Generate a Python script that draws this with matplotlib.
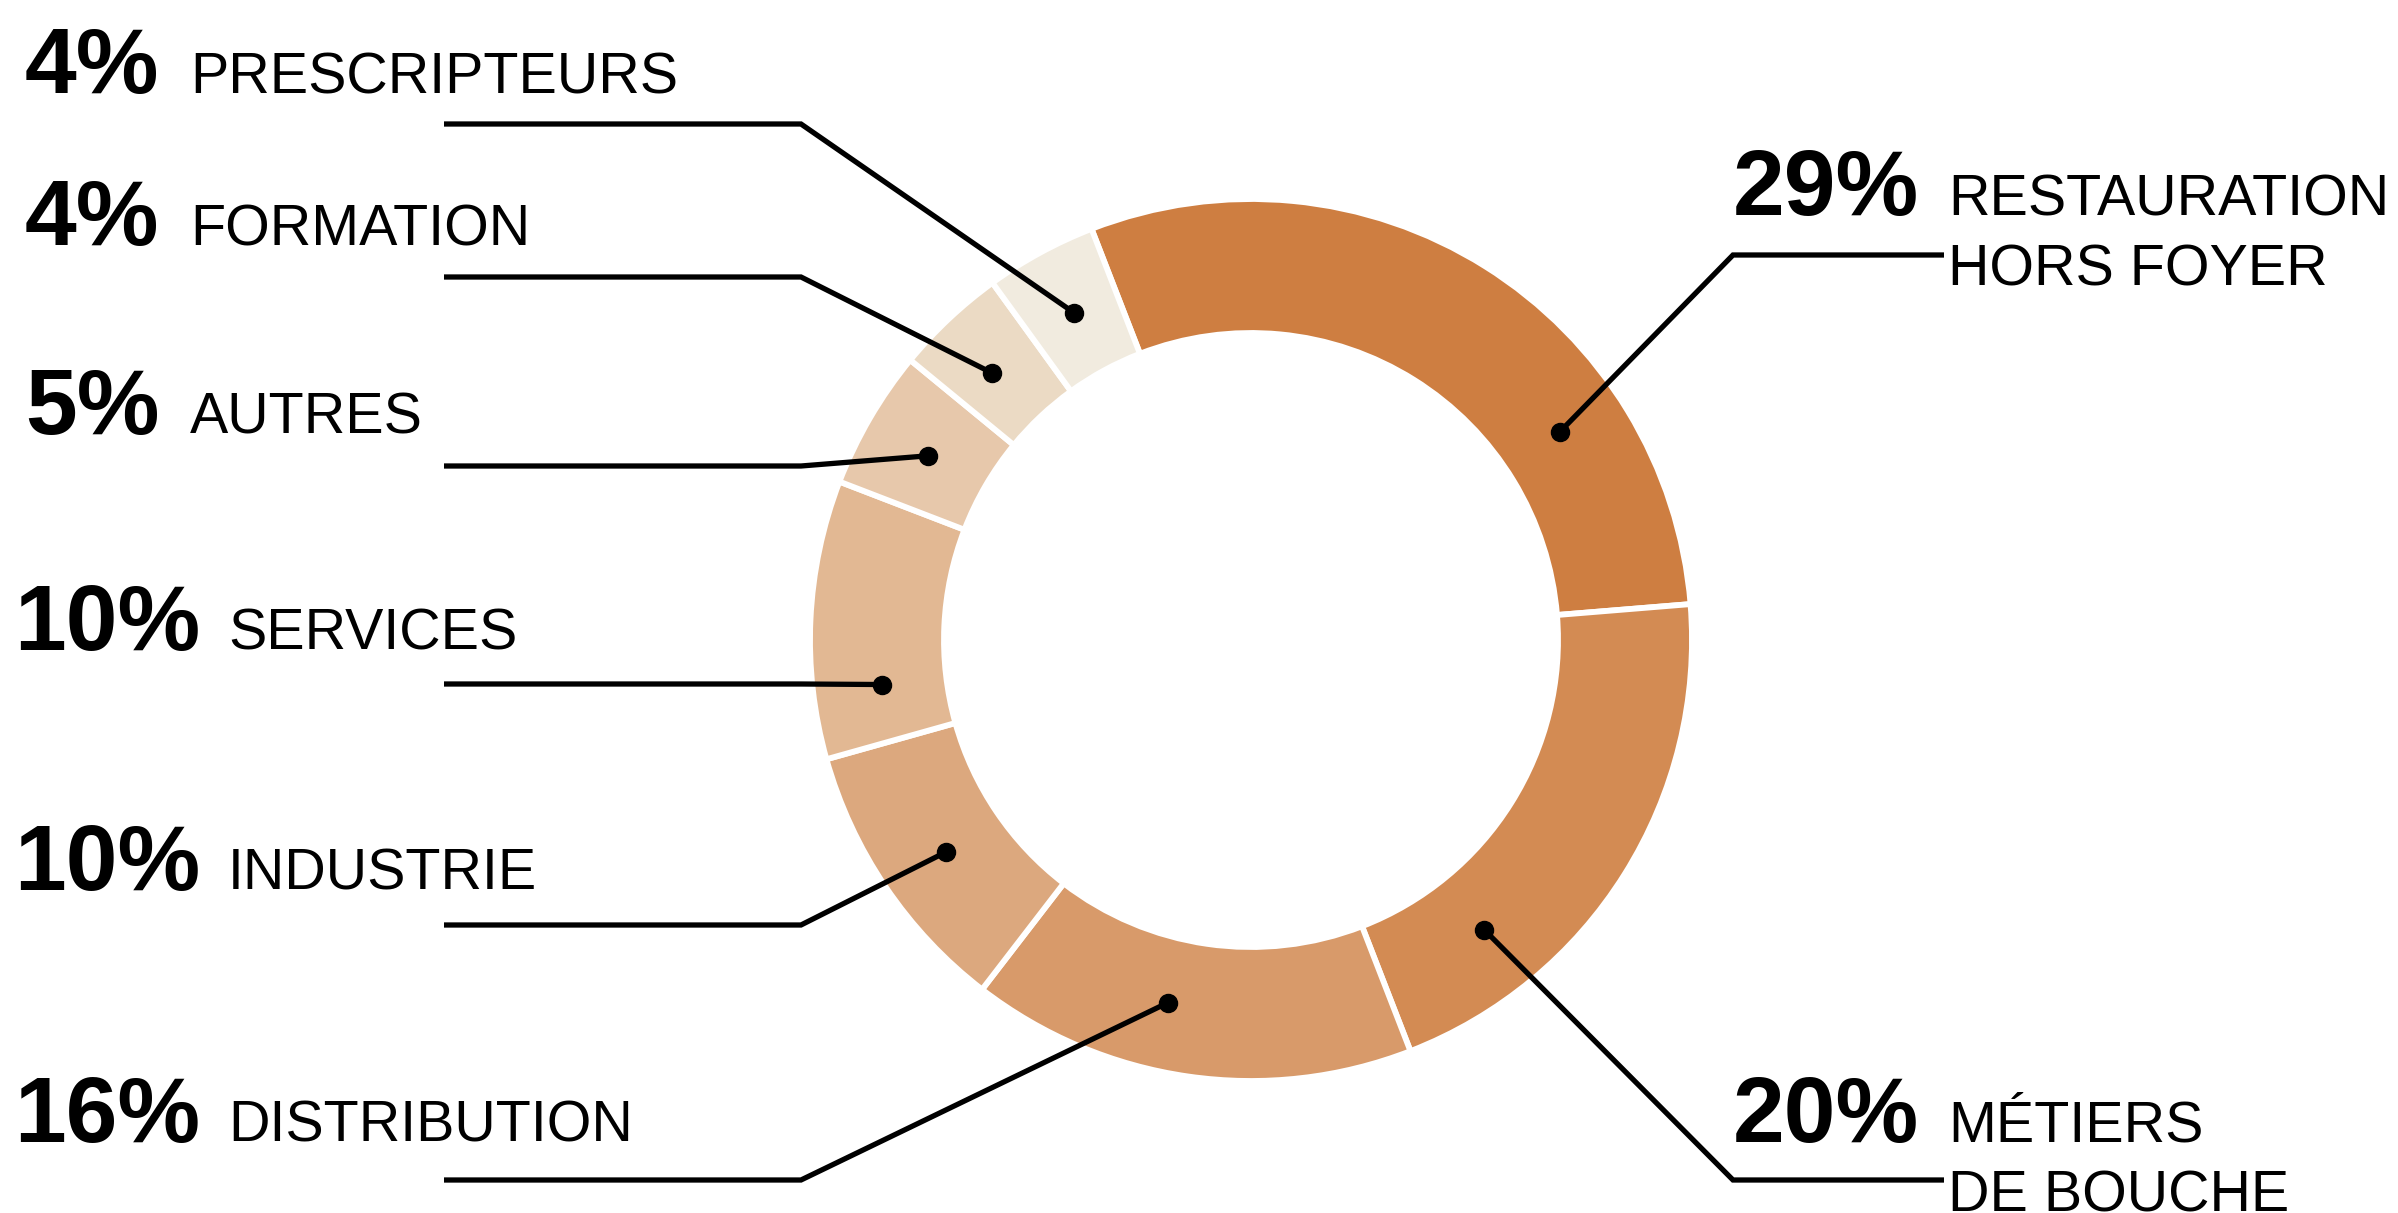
import matplotlib
matplotlib.use("Agg")
import matplotlib.pyplot as plt
import numpy as np

# ---- data ----
categories = ["RESTAURATION\nHORS FOYER", "MÉTIERS\nDE BOUCHE", "DISTRIBUTION",
              "INDUSTRIE", "SERVICES", "AUTRES", "FORMATION", "PRESCRIPTEURS"]
values = [29, 20, 16, 10, 10, 5, 4, 4]
pct_labels = [f"{v}%" for v in values]
colors = ["#CE7E41", "#D38B53", "#D89A6A", "#DCA87E",
          "#E2B893", "#E7C8AB", "#EBDAC4", "#F1EBDF"]

# ---- layout (pixel units, image coords y down) ----
sides = ["R", "R", "L", "L", "L", "L", "L", "L"]
dot_frac = [0.725, 0.76, 0.58, 0.48, 0.24, 0.47, 0.44, 0.51]
line_y = [255, 1180, 1180, 925, 684, 466, 277, 124]
text_base = [215, 1142, 1142, 890, 650, 434, 245, 93]

W, H = 2398, 1213
fig = plt.figure(figsize=(W / 100, H / 100), dpi=100)
ax = fig.add_axes([0, 0, 1, 1])

cx, cy = 1251, H - 640
R = 441
ring = 134
wedges, _ = ax.pie(values, colors=colors, startangle=111.2, counterclock=False,
                   radius=R, center=(cx, cy),
                   wedgeprops=dict(width=ring, edgecolor="white", linewidth=4.2))
ax.set_xlim(0, W)
ax.set_ylim(0, H)
ax.set_aspect("equal")
ax.axis("off")

r_dot = R - ring / 2 - 2
lw = 3.8
pct_fs = 67
lab_fs = 41.3
font = "Liberation Sans"

for i, w in enumerate(wedges):
    ang = np.deg2rad(w.theta2 - dot_frac[i] * (w.theta2 - w.theta1))
    dx, dy = cx + r_dot * np.cos(ang), cy + r_dot * np.sin(ang)
    ly = H - line_y[i]
    if sides[i] == "L":
        xs = [444, 801, dx]
    else:
        xs = [1944, 1733, dx]
    ys = [ly, ly, dy]
    ax.plot(xs, ys, color="black", lw=lw, solid_joinstyle="miter",
            solid_capstyle="butt", zorder=5)
    ax.plot([dx], [dy], "o", color="black", ms=13, zorder=6)

    tb = H - text_base[i]
    lines = categories[i].split("\n")
    if sides[i] == "L":
        px = 25 if len(pct_labels[i]) == 2 else 14
        lx = 190 if len(pct_labels[i]) == 2 else 228
    else:
        px, lx = 1733, 1948
    ax.text(px, tb, pct_labels[i], fontsize=pct_fs, fontweight="bold",
            family=font, ha="left", va="baseline", color="black")
    for k, t in enumerate(lines):
        ax.text(lx, tb - 70 * k, t, fontsize=lab_fs, family=font,
                ha="left", va="baseline", color="black")

fig.savefig("out.png", dpi=100, facecolor="white")
